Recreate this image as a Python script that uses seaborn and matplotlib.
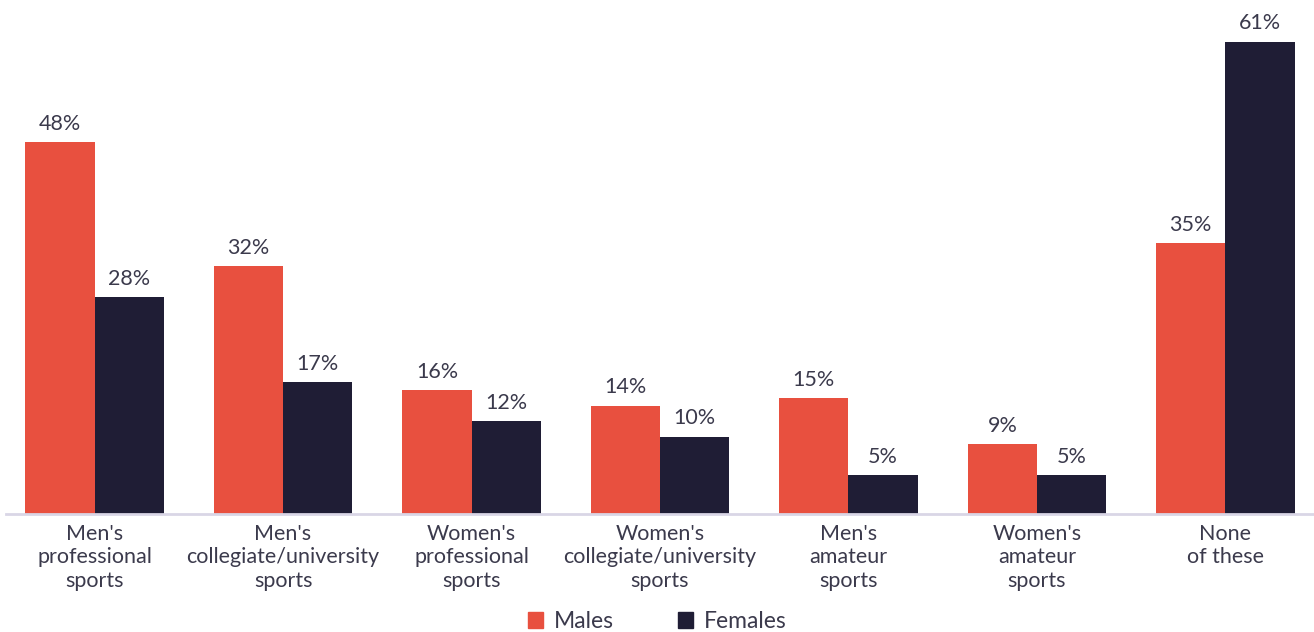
import matplotlib
matplotlib.use("Agg")
import matplotlib.pyplot as plt
import seaborn as sns
import pandas as pd
from matplotlib.patches import Patch

categories = [
    "Men's\nprofessional\nsports",
    "Men's\ncollegiate/university\nsports",
    "Women's\nprofessional\nsports",
    "Women's\ncollegiate/university\nsports",
    "Men's\namateur\nsports",
    "Women's\namateur\nsports",
    "None\nof these",
]
males = [48, 32, 16, 14, 15, 9, 35]
females = [28, 17, 12, 10, 5, 5, 61]
groups = ["Males", "Females"]

RED = "#E8503F"
NAVY = "#1F1D35"
TEXT = "#3B3A4C"

sns.set_theme(style="white")
plt.rcParams["font.family"] = ["Lato", "DejaVu Sans"]

df = pd.DataFrame({
    "category": categories * 2,
    "group": [groups[0]] * len(categories) + [groups[1]] * len(categories),
    "value": males + females,
})

fig = plt.figure(figsize=(13.14, 6.32), dpi=100)
ax = fig.add_axes([6 / 1314, 118 / 632, 1 - 6 / 1314, 514 / 632])

sns.barplot(data=df, x="category", y="value", hue="group", order=categories,
            hue_order=groups, palette=[RED, NAVY], width=0.735, gap=0,
            saturation=1, linewidth=0, legend=False, ax=ax)

for container in ax.containers:
    ax.bar_label(container, labels=[f"{v:.0f}%" for v in container.datavalues],
                 padding=6, fontsize=15.5, color=TEXT)

ax.set_ylim(0, 66.4)
ax.set_xlim(-0.47, 6.47)
ax.set_xlabel("")
ax.set_ylabel("")
ax.set_yticks([])
ax.tick_params(axis="x", length=0, pad=7, labelsize=15.5, labelcolor=TEXT)
for lbl in ax.get_xticklabels():
    lbl.set_linespacing(1.22)
for side in ["top", "left", "right"]:
    ax.spines[side].set_visible(False)
ax.spines["bottom"].set_color("#D9D6E6")
ax.spines["bottom"].set_linewidth(2)

handles = [Patch(color=RED, label="Males"), Patch(color=NAVY, label="Females")]
fig.legend(handles=handles, loc="lower center", bbox_to_anchor=(0.5, -0.033),
           ncol=2, frameon=False, fontsize=16.5, handlelength=0.68, handleheight=0.68,
           handletextpad=0.45, columnspacing=2.8, labelcolor=TEXT)

fig.savefig("out.png", dpi=100)
